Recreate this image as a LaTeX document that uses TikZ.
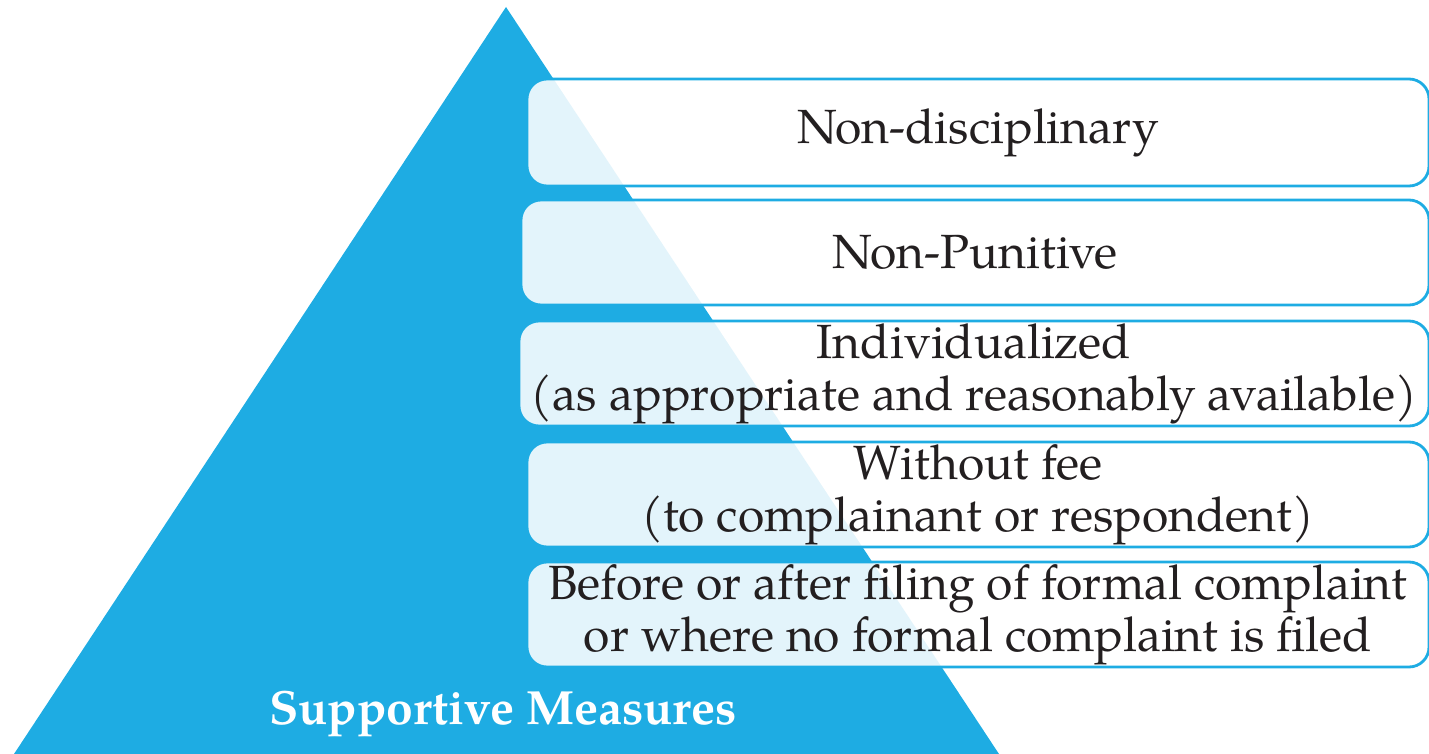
\documentclass[tikz,border=0pt]{standalone}
\usepackage{fontspec}
\setmainfont{TeX Gyre Pagella}
\usepackage{xcolor}
\definecolor{pyblue}{RGB}{30,172,227}
\definecolor{inktext}{RGB}{35,31,32}

\begin{document}
\begin{tikzpicture}[
            x = 0.5pt, % one unit per pixel
            y = -0.5pt, % rows counted downwards
            tier/.style = {rectangle, rounded corners=10pt, draw=pyblue,
                line width=1.4pt, fill=white, fill opacity=0.88,
                text opacity=1, text=inktext, align=center,
                font=\fontsize{24}{26}\selectfont, inner sep=0pt}, % box style
            title/.style = {font=\bfseries\fontsize{24}{26}\selectfont, text=white}
        ]
\useasboundingbox (0,0) rectangle (1429,754);

% the pyramid
\fill[pyblue] (14,754) -- (506,7) -- (999,754) -- cycle;

\node[tier, minimum width=451pt, minimum height=53.5pt] (nondisc) at (978,132.5) {Non-disciplinary};
\node[tier, minimum width=454pt, minimum height=52.5pt] (nonpun) at (975,252.5) {Non-Punitive};
\node[tier, minimum width=455pt, minimum height=52.5pt] (indiv) at (974,373.5) {Individualized\\(as appropriate and reasonably available)};
\node[tier, minimum width=451pt, minimum height=52.5pt] (nofee) at (978,494.5) {Without fee\\(to complainant or respondent)};
\node[tier, minimum width=451pt, minimum height=52.5pt] (timing) at (978,614.5) {Before or after filing of formal complaint\\or where no formal complaint is filed};

\node[title] (measures) at (503,714) {Supportive Measures};
\end{tikzpicture}
\end{document}
